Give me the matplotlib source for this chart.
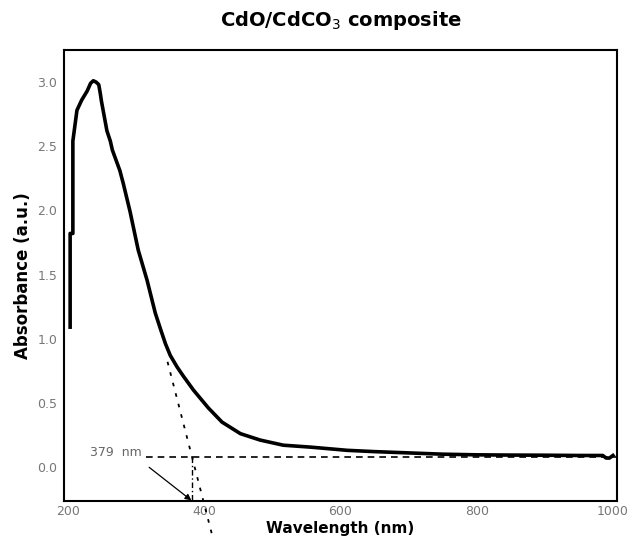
import matplotlib
matplotlib.use("Agg")
import matplotlib.pyplot as plt

# spectrum
wavelength = [203, 203, 207, 207, 213, 220, 228, 233, 237, 241, 245, 247, 249,
              257, 262, 265, 276, 281, 291, 303, 316, 328, 336, 343, 350,
              360, 369, 384, 406, 426, 453, 482, 516, 556, 610, 650, 700, 750,
              800, 850, 900, 950, 985, 990, 995, 1000]
absorbance = [1.09, 1.82, 1.82, 2.54, 2.78, 2.86, 2.93, 2.99, 3.01, 3.00, 2.98, 2.92, 2.85,
              2.62, 2.54, 2.47, 2.31, 2.21, 1.99, 1.69, 1.455, 1.20, 1.07, 0.96, 0.87,
              0.78, 0.71, 0.60, 0.46, 0.35, 0.26, 0.21, 0.17, 0.155, 0.13, 0.12, 0.11, 0.10,
              0.095, 0.093, 0.092, 0.09, 0.09, 0.07, 0.07, 0.09]

# tangent / baseline construction
tangent_x = [346, 411]
tangent_y = [0.82, -0.52]
baseline_x = [315, 1006]
baseline_y = [0.08, 0.08]
edge_nm = 379

xticks = [200, 400, 600, 800, 1000]
yticks = [0.0, 0.5, 1.0, 1.5, 2.0, 2.5, 3.0]

fig = plt.figure(figsize=(6.3, 5.43), dpi=100)
ax = fig.add_axes([0.1016, 0.0773, 0.8778, 0.8307])

ax.plot(wavelength, absorbance, color="black", lw=2.6, solid_joinstyle="round")
ax.plot(tangent_x, tangent_y, color="black", lw=1.3, ls=(0, (2, 4)), clip_on=False)
ax.plot(baseline_x, baseline_y, color="black", lw=1.2, ls=(0, (4, 3)))
ax.plot([edge_nm + 3, edge_nm + 3], [0.08, -0.265], color="black", lw=1.0, ls=(0, (4, 2, 1, 2)))

ax.annotate("379  nm", xy=(edge_nm + 2, -0.26), xytext=(270, 0.11),
            ha="center", va="center", fontsize=9, color="#666666",
            arrowprops=dict(arrowstyle="-|>", color="black", lw=0.9,
                            mutation_scale=9, shrinkA=6, shrinkB=0,
                            relpos=(0.95, 0.0)))

ax.set_xlim(194, 1006)
ax.set_ylim(-0.265, 3.25)
ax.set_xticks(xticks)
ax.set_yticks(yticks)
ax.set_yticklabels(["%.1f" % v for v in yticks])
ax.tick_params(length=0, labelsize=9, labelcolor="#777777", pad=5)
ax.tick_params(axis="x", pad=3)

for s in ax.spines.values():
    s.set_linewidth(1.5)

ax.set_title("CdO/CdCO$_3$ composite", fontsize=14, fontweight="bold", pad=17)
ax.set_xlabel("Wavelength (nm)", fontsize=11, fontweight="bold", labelpad=2)
ax.set_ylabel("Absorbance (a.u.)", fontsize=12, fontweight="bold", labelpad=4)

fig.savefig("out.png", dpi=100)
